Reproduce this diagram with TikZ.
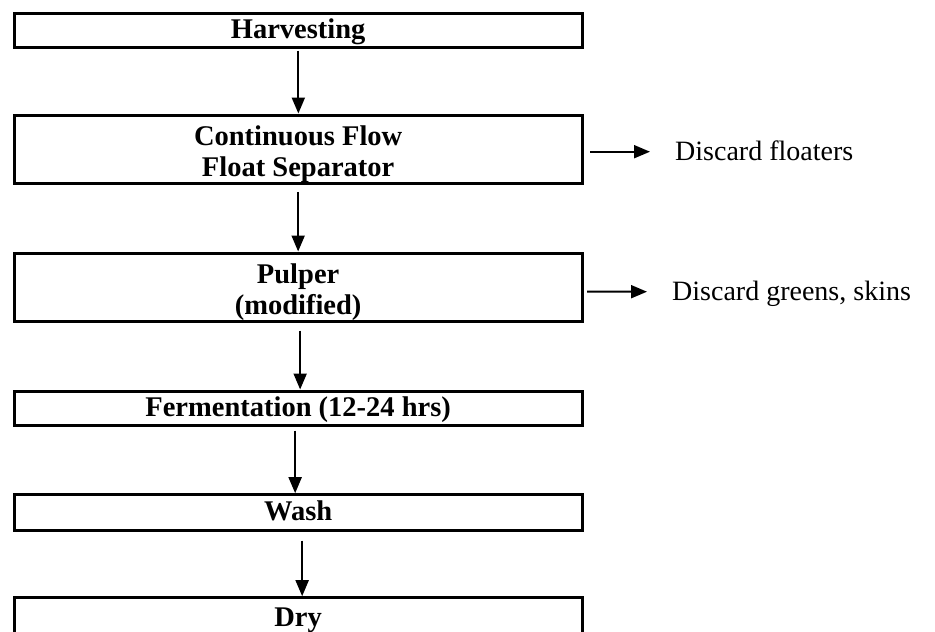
\documentclass[tikz,border=0pt]{standalone}
\usepackage{fontspec}
\setmainfont{Liberation Serif}
\usetikzlibrary{arrows.meta}
\begin{document}
\begin{tikzpicture}[x=1pt,y=-1pt,
  stage/.style={draw, line width=3pt, minimum width=567.7pt, inner sep=0pt,
    font=\fontsize{28.5}{31}\selectfont\bfseries, align=center, text height=19pt, text depth=3pt},
  twoline/.style={text height=60pt, text depth=6pt},
  arr/.style={line width=2pt, -{Triangle[length=16pt,width=13pt]}},
  note/.style={anchor=base west, inner sep=0pt, font=\fontsize{28}{31}\selectfont}]
\useasboundingbox (0,0) rectangle (935,632);
\clip (0,0) rectangle (935,632);
\node[stage, minimum height=33.7pt] (harv)  at (298.15,30.3)  {Harvesting};
\node[stage, twoline, minimum height=68.3pt] (float) at (298.15,149.15) {Continuous Flow\\Float Separator};
\node[stage, twoline, minimum height=68.7pt] (pulp)  at (298.15,287.35) {Pulper\\(modified)};
\node[stage, minimum height=34.7pt] (ferm)  at (298.15,408.35) {Fermentation (12-24 hrs)};
\node[stage, minimum height=35.3pt] (wash)  at (298.15,512.35) {Wash};
\node[stage, minimum height=46pt, text height=16pt, text depth=4pt] (dry) at (298.15,620.7) {Dry};
\node[note] (d1) at (675,160.7) {Discard floaters};
\node[note] (d2) at (672,300.7) {Discard greens, skins};
\draw[arr] ([shift={(0.2,2)}]harv.south) -- ([shift={(0.2,0)}]float.north);
\draw[arr] ([shift={(0,7)}]float.south) -- (pulp.north);
\draw[arr] ([shift={(2,7.5)}]pulp.south) -- ([shift={(2,0)}]ferm.north);
\draw[arr] ([shift={(-3,3.5)}]ferm.south) -- ([shift={(-3,0)}]wash.north);
\draw[arr] ([shift={(4,9)}]wash.south) -- ([shift={(4,0)}]dry.north);
\draw[arr] ([shift={(6.5,2.55)}]float.east) -- ([shift={(-25,-9)}]d1.base west);
\draw[arr] ([shift={(3.5,4.35)}]pulp.east) -- ([shift={(-25,-9)}]d2.base west);
\end{tikzpicture}
\end{document}
